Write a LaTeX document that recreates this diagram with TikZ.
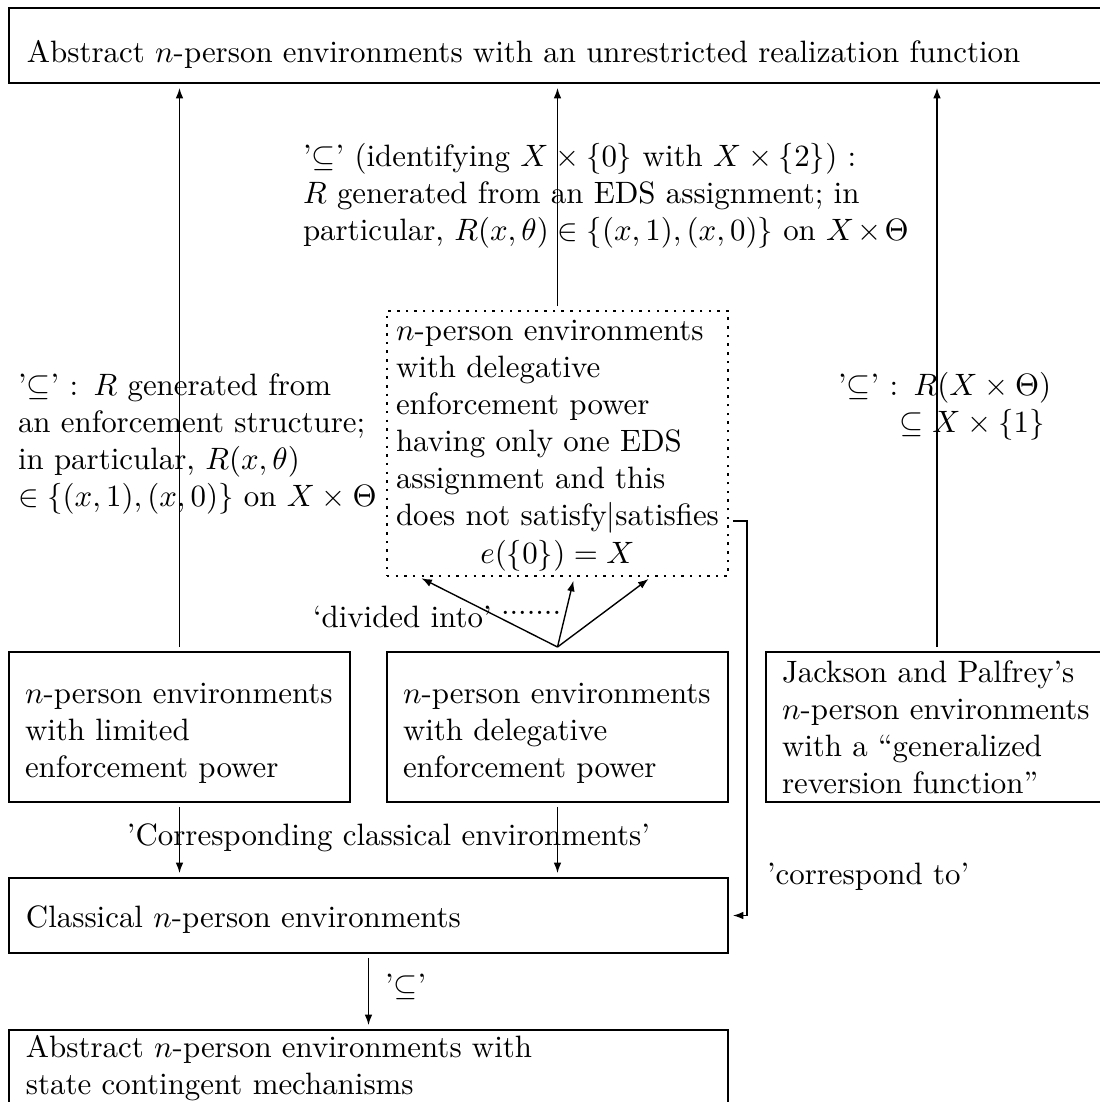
\documentclass[tikz,border=0pt]{standalone}
\usetikzlibrary{arrows.meta,calc,fit}
\begin{document}
\begin{tikzpicture}[x=0.3236pt,y=-0.3236pt,
  box/.style={draw, rectangle, inner sep=0pt, outer sep=0pt, line width=0.5pt},
  dotbox/.style={box, line width=0.8pt, dash pattern=on 0.8pt off 2pt},
  txt/.style={anchor=base west, inner sep=0pt, outer sep=0pt, align=left},
  arr/.style={-{Latex[length=3.4pt,width=2.5pt]}, line width=0.45pt, shorten <=1.6pt, shorten >=1.6pt},
  arrS/.style={-{Latex[length=3.4pt,width=2.5pt]}, line width=0.45pt, shorten >=1.6pt}]
\useasboundingbox (0,0) rectangle (1100,1102);
% boxes
\node[box, fit={(9,8) (1112,83)}] (top) {};
\node[box, fit={(9,652) (350,802)}] (lim) {};
\node[box, fit={(387,652) (728,802)}] (del) {};
\node[box, fit={(766,652) (1108,802)}] (jp) {};
\node[dotbox, fit={(387,311) (728,576)}] (one) {};
\node[box, fit={(9,878) (728,953)}] (cla) {};
\node[box, fit={(9,1030) (728,1125)}] (sta) {};
% box texts
\node[txt, text width=330pt] (topT) at (27,62) {Abstract $n$-person environments with an unrestricted realization function};
\node[txt, text width=104pt] (limT) at (25,703) {$n$-person environments\\with limited\\enforcement power};
\node[txt, text width=104pt] (delT) at (403,703) {$n$-person environments\\with delegative\\enforcement power};
\node[txt, text width=104pt] (jpT) at (782,682) {Jackson and Palfrey's\\$n$-person environments\\with a ``generalized\\reversion function''};
\node[txt, text width=107pt] (oneT) at (396,340) {$n$-person environments\\with delegative\\enforcement power\\having only one EDS\\assignment and this\\does not satisfy$|$satisfies};
\node[anchor=base, inner sep=0pt] (oneE) at (557.5,563) {$e(\{0\}) = X$};
\node[txt, text width=150pt] (claT) at (26,927) {Classical $n$-person environments};
\node[txt, text width=172pt] (staT) at (26,1057) {Abstract $n$-person environments with\\state contingent mechanisms};
% labels
\node[txt, text width=196pt] (labTop) at (303,166) {'$\subseteq$' (identifying $X\times\{0\}$ with $X\times\{2\}$) :\\$R$ generated from an EDS assignment; in\\particular, $R(x,\theta)\in\{(x,1),(x,0)\}$ on $X\times\Theta$};
\node[txt, text width=118pt] (labLeft) at (18,395) {'$\subseteq$' : $R$ generated from\\an enforcement structure;\\in particular, $R(x,\theta)$\\$\in\{(x,1),(x,0)\}$ on $X\times\Theta$};
\node[txt, text width=82pt] (labRight) at (838,395) {'$\subseteq$' : $R(X\times\Theta)$\\\hspace*{20pt}$\subseteq X\times\{1\}$};
\node[txt] (labDiv) at (313,627) {`divided into'};
\node[txt] (labDots) at (501,614) {.......};
\node[txt] (labCorr) at (127,845) {'Corresponding classical environments'};
\node[txt] (labTo) at (767,884) {'correspond to'};
\node[txt] (labSub) at (385,995) {'$\subseteq$'};
% connectors
\draw[arr] (lim.north) -- (lim.north |- top.south);
\draw[arr] (one.north) -- (one.north |- top.south);
\draw[arr] (jp.north) -- (jp.north |- top.south);
\draw[arr] (lim.south) -- (lim.south |- cla.north);
\draw[arr] (del.south) -- (del.south |- cla.north);
\draw[arr] (cla.south) -- (cla.south |- sta.north);
\coordinate (dv) at ($(del.north)+(0,-5)$);
\draw[arrS] (dv) -- ($(one.south)+(-140.5,0)$);
\draw[arrS] (dv) -- ($(one.south)+(17,0)$);
\draw[arrS] (dv) -- ($(one.south)+(95,0)$);
\coordinate (oneS) at (one.east |- 0,521);
\coordinate (bend) at (747,521);
\draw[arr] (oneS) -- (bend) |- (cla.east);
\end{tikzpicture}
\end{document}
